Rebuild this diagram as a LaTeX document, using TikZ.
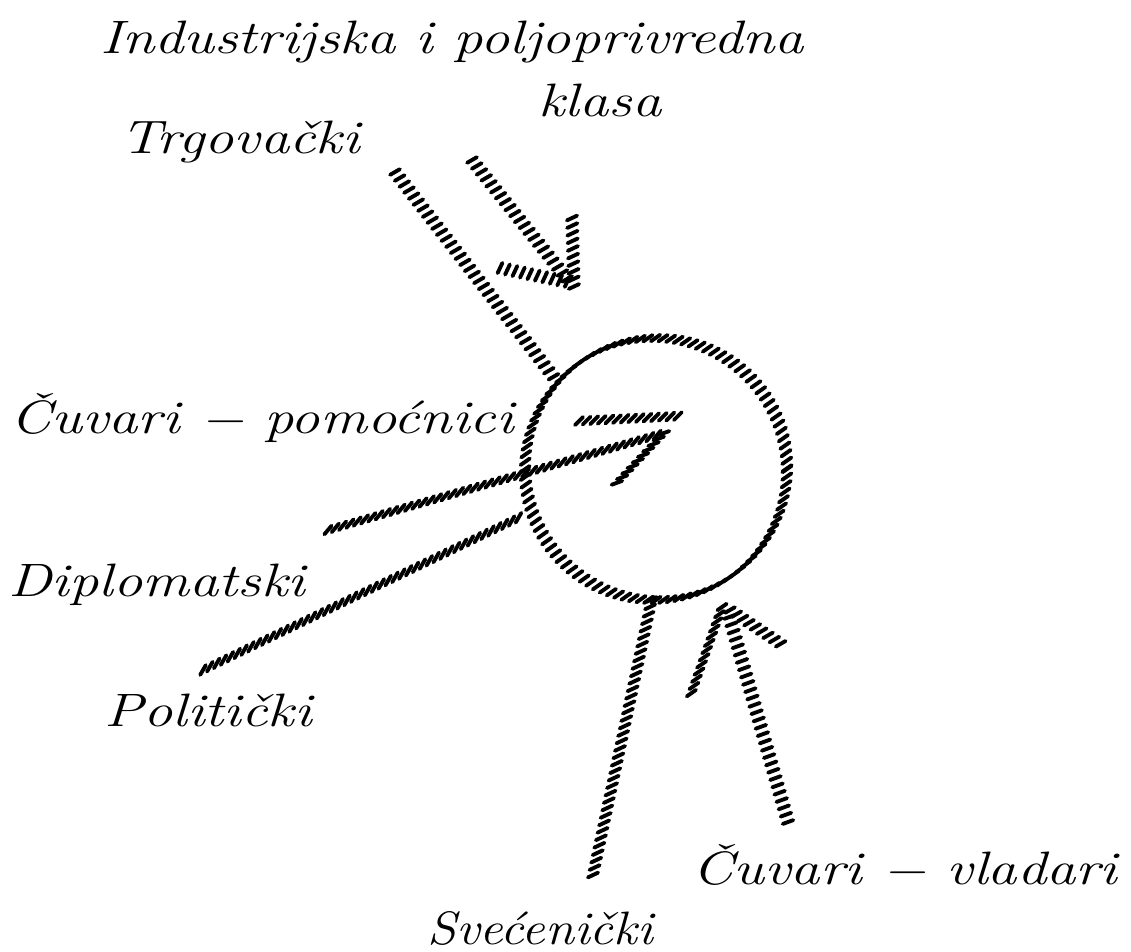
\documentclass[tikz,border=0pt]{standalone}
\usepackage{tikz}
\usetikzlibrary{decorations.markings}

\newcommand{\wide}[1]{\scalebox{1.25}[1]{#1}}

\begin{document}
\begin{tikzpicture}[x=0.03cm,y=-0.03cm,
    lbl/.style={font=\fontsize{40}{46}\selectfont\itshape, inner sep=0pt},
    hatched/.style={postaction={decorate,decoration={markings,
        mark=between positions 0 and 1 step 6.5pt with {\pgftransformresetnontranslations
        \pgftransformrotate{#1}\draw[line width=3.3pt, line cap=round] (-4.8pt,0) -- (4.8pt,0);}}}},
    hatched/.default=35]
    \useasboundingbox (0,0) rectangle (1131,951);
    % --- LABELS ---
    \node[lbl] (ind) at (452,42) {\wide{Industrijska i poljoprivredna}};
    \node[lbl] (klasa) at (600,100) {\wide{klasa}};
    \node[lbl] (trg) at (240,142) {\wide{Trgovački}};
    \node[lbl] (pom) at (262,418) {\wide{Čuvari − pomoćnici}};
    \node[lbl] (dipl) at (157,585) {\wide{Diplomatski}};
    \node[lbl] (pol) at (208,710) {\wide{Politički}};
    \node[lbl] (vlad) at (905,865) {\wide{Čuvari − vladari}};
    \node[lbl] (svec) at (540,928) {\scalebox{1.12}[1]{Svećenički}};

    % --- CIRCLE ---
    \path[hatched] (656,469) circle (131);

    % --- STROKES FROM THE LEFT ---
    \path[hatched=30] (395,172) -- (556,380);
    \path[hatched=30] (472,160) -- (568,280);
    \path[hatched=25] (572,218) -- (574,288);
    \path[hatched=65] (500,268) -- (568,282);
    \path[hatched=50] (328,530) -- (664,433);
    \path[hatched=45] (579,421) -- (680,416);
    \path[hatched=20] (664,433) -- (612,488);
    \path[hatched=60] (203,670) -- (520,517);

    % --- STROKES FROM BELOW ---
    \path[hatched=25] (593,875) -- (652,598);
    \path[hatched=20] (788,822) -- (728,612);
    \path[hatched=35] (722,607) -- (690,697);
    \path[hatched=30] (730,610) -- (787,648);
\end{tikzpicture}
\end{document}
